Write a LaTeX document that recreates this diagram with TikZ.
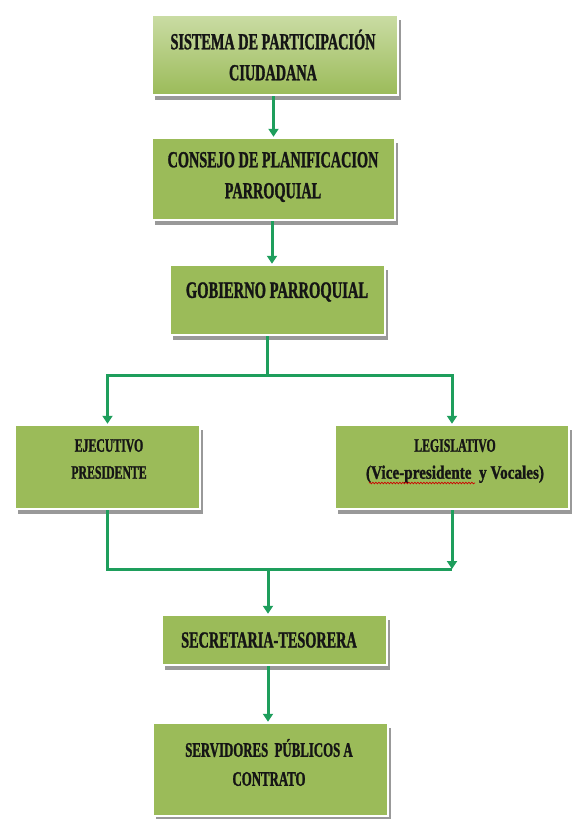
\documentclass[tikz,border=0pt]{standalone}
\usepackage{fontspec}
\setmainfont{Liberation Serif}[FakeStretch=0.62, BoldFeatures={FakeBold=1.2}]
\newfontfamily\widefont{Liberation Serif}[FakeStretch=0.8, BoldFeatures={FakeBold=1.2}]
\usetikzlibrary{arrows.meta,shadows,decorations.pathmorphing,calc}
\definecolor{boxgreen}{HTML}{9BBB59}
\definecolor{boxlight}{HTML}{CADCA4}
\definecolor{arrgreen}{HTML}{1E9E5C}
\definecolor{txtc}{HTML}{151515}
\tikzset{
  box/.style={draw=white, line width=2.5pt, fill=boxgreen, rectangle,
    drop shadow={shadow xshift=2.5pt, shadow yshift=-4.5pt, fill=black!40, opacity=1}},
  lbl/.style={align=center, text=txtc, inner sep=0pt},
  big/.style={font=\bfseries\fontsize{23}{31}\selectfont},
  mid/.style={font=\bfseries\fontsize{20.7}{29}\selectfont},
  small/.style={font=\bfseries\fontsize{19}{27}\selectfont},
  conn/.style={draw=arrgreen, line width=3pt},
  arr/.style={conn, -{Triangle[width=10pt,length=8pt]}}
}
\begin{document}
\begin{tikzpicture}[x=1pt,y=-1pt]
\useasboundingbox (0,0) rectangle (571,819);
% boxes
\node[box, top color=boxlight, bottom color=boxgreen, minimum width=246pt, minimum height=80pt] (B1) at (275,55) {};
\node[box, minimum width=243pt, minimum height=82pt] (B2) at (273.5,179) {};
\node[box, minimum width=215pt, minimum height=70pt] (B3) at (277.5,300) {};
\node[box, minimum width=185pt, minimum height=84pt] (B4) at (107.5,467) {};
\node[box, minimum width=234pt, minimum height=84pt] (B5) at (452,467) {};
\node[box, minimum width=225pt, minimum height=50pt] (B6) at (274.5,640) {};
\node[box, minimum width=235pt, minimum height=93pt] (B7) at (270.5,769.5) {};
% texts
\node[lbl, big] (T1) at (273,55) {SISTEMA DE PARTICIPACIÓN\\CIUDADANA};
\node[lbl, big] (T2) at (273,177) {CONSEJO DE PLANIFICACION\\PARROQUIAL};
\node[lbl, big, font=\bfseries\fontsize{23.5}{31}\selectfont] (T3) at (277,292) {GOBIERNO PARROQUIAL};
\node[lbl, small] (T4) at (109,459) {EJECUTIVO\\PRESIDENTE};
\node[lbl, small] (T5) at (455,461) {LEGISLATIVO\\{\widefont(Vice-presidente\ \ y Vocales)}};
\node[lbl, big] (T6) at (269,640) {SECRETARIA-TESORERA};
\node[lbl, mid] (T7) at (269,762.5) {SERVIDORES\ \ PÚBLICOS A\\CONTRATO};
% spell-check underline
\draw[red!80!black, line width=0.7pt, decorate, decoration={snake, amplitude=0.8pt, segment length=3pt}] (369,483) -- (475,483);
% junctions
\coordinate (j1) at (267,375);
\coordinate (j2) at (268,569);
\coordinate (j3) at (B5.south |- j2);
% connectors
\draw[arr] (B1.south -| B2.north) -- (B2.north);
\draw[arr] (B2.south -| 272,0) -- (B3.north -| 272,0);
\draw[conn] (B3.south -| j1) -- (j1);
\draw[arr] (j1) -| (B4.north);
\draw[arr] (j1) -| (B5.north);
\draw[conn] (B4.south) |- (j3);
\draw[arr] (B5.south) -- (j3);
\draw[arr] (j2) -- (j2 |- B6.north);
\draw[arr] (B6.south -| j2) -- (B7.north -| j2);
\end{tikzpicture}
\end{document}
